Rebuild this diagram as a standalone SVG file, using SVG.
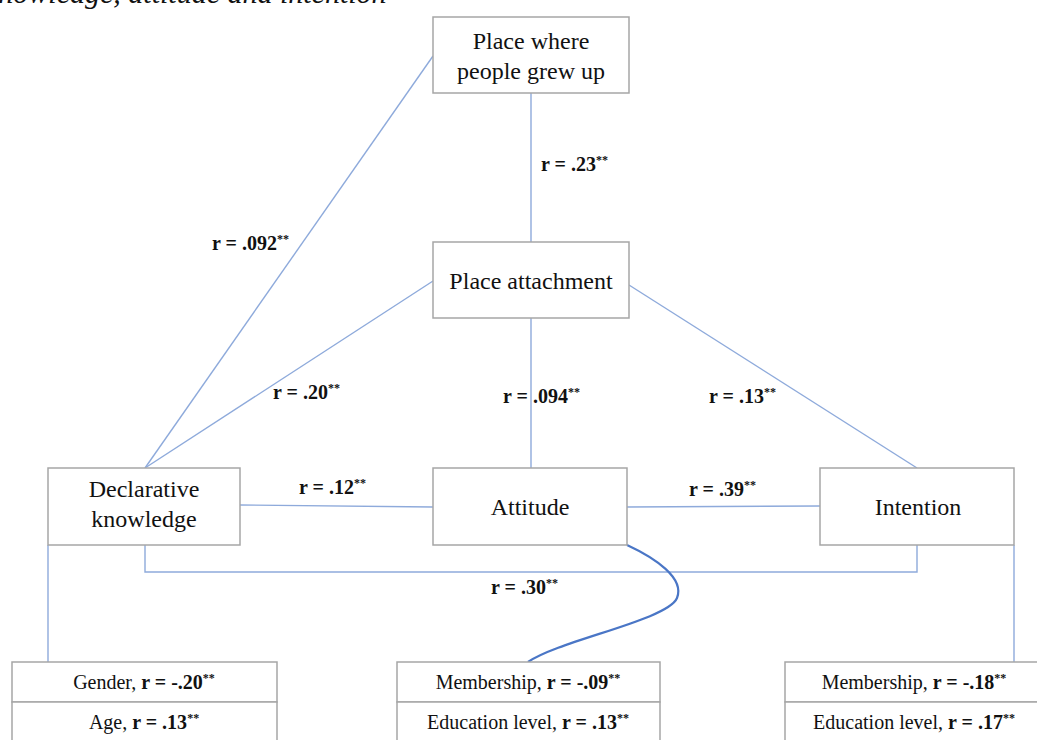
<svg xmlns="http://www.w3.org/2000/svg" width="1037" height="740" viewBox="0 0 1037 740">
<style>
.box{fill:#fff;stroke:#a6a6a6;stroke-width:1.5}
.ln{fill:none;stroke:#8eaadb;stroke-width:1.4}
.cv{fill:none;stroke:#4a76c6;stroke-width:2.2}
.t{font-family:"Liberation Serif","Times New Roman",serif;font-size:24px;fill:#111;text-anchor:middle}
.lb{font-family:"Liberation Serif","Times New Roman",serif;font-size:20px;font-weight:bold;fill:#111}
.s{font-size:12px}
.bt{font-family:"Liberation Serif","Times New Roman",serif;font-size:20px;fill:#111;text-anchor:middle}
.b{font-weight:bold}
.cap{font-family:"Liberation Serif","Times New Roman",serif;font-size:30px;font-style:italic;fill:#111}
</style>
<rect width="1037" height="740" fill="#fff"/>
<text class="cap" x="-15" y="3">knowledge, attitude and intention</text>
<g id="connectors">
<line class="ln" x1="433" y1="56" x2="145" y2="468"/>
<line class="ln" x1="433" y1="281" x2="145" y2="468"/>
<line class="ln" x1="531" y1="93" x2="531" y2="242"/>
<line class="ln" x1="531" y1="318" x2="531" y2="468"/>
<line class="ln" x1="629" y1="285" x2="917" y2="468"/>
<line class="ln" x1="240" y1="505" x2="433" y2="507"/>
<line class="ln" x1="627" y1="507" x2="820" y2="506"/>
<polyline class="ln" points="145,545 145,572 917,572 917,545"/>
<line class="ln" x1="48" y1="545" x2="48" y2="662"/>
<line class="ln" x1="1014" y1="545" x2="1014" y2="662"/>
<path class="cv" d="M627,545 C655,558 685,578 677,598 C668,620 560,640 528,662"/>
</g>
<g id="labels">
<text class="lb" x="541" y="171">r = .23<tspan class="s" dy="-7">**</tspan></text>
<text class="lb" x="212" y="250">r = .092<tspan class="s" dy="-7">**</tspan></text>
<text class="lb" x="273" y="399">r = .20<tspan class="s" dy="-7">**</tspan></text>
<text class="lb" x="503" y="403">r = .094<tspan class="s" dy="-7">**</tspan></text>
<text class="lb" x="709" y="403">r = .13<tspan class="s" dy="-7">**</tspan></text>
<text class="lb" x="299" y="494">r = .12<tspan class="s" dy="-7">**</tspan></text>
<text class="lb" x="689" y="496">r = .39<tspan class="s" dy="-7">**</tspan></text>
<text class="lb" x="491" y="594">r = .30<tspan class="s" dy="-7">**</tspan></text>
</g>
<g id="place-grew-up">
<rect class="box" x="433" y="17" width="196" height="76"/>
<text class="t" x="531" y="49">Place where</text>
<text class="t" x="531" y="79">people grew up</text>
</g>
<g id="place-attachment">
<rect class="box" x="433" y="242" width="196" height="76"/>
<text class="t" x="531" y="289">Place attachment</text>
</g>
<g id="declarative-knowledge">
<rect class="box" x="48" y="468" width="192" height="77"/>
<text class="t" x="144" y="497">Declarative</text>
<text class="t" x="144" y="527">knowledge</text>
</g>
<g id="attitude">
<rect class="box" x="433" y="468" width="194" height="77"/>
<text class="t" x="530" y="515">Attitude</text>
</g>
<g id="intention">
<rect class="box" x="820" y="468" width="194" height="77"/>
<text class="t" x="918" y="515">Intention</text>
</g>
<g id="left-covariates">
<rect class="box" x="12" y="662" width="265" height="40"/>
<rect class="box" x="12" y="702" width="265" height="50"/>
<text class="bt" x="144" y="689">Gender, <tspan class="b">r = -.20</tspan><tspan class="b s" dy="-7">**</tspan></text>
<text class="bt" x="144" y="729">Age, <tspan class="b">r = .13</tspan><tspan class="b s" dy="-7">**</tspan></text>
</g>
<g id="middle-covariates">
<rect class="box" x="397" y="662" width="263" height="40"/>
<rect class="box" x="397" y="702" width="263" height="50"/>
<text class="bt" x="528" y="689">Membership, <tspan class="b">r = -.09</tspan><tspan class="b s" dy="-7">**</tspan></text>
<text class="bt" x="528" y="729">Education level, <tspan class="b">r = .13</tspan><tspan class="b s" dy="-7">**</tspan></text>
</g>
<g id="right-covariates">
<rect class="box" x="785" y="662" width="270" height="40"/>
<rect class="box" x="785" y="702" width="270" height="50"/>
<text class="bt" x="914" y="689">Membership, <tspan class="b">r = -.18</tspan><tspan class="b s" dy="-7">**</tspan></text>
<text class="bt" x="914" y="729">Education level, <tspan class="b">r = .17</tspan><tspan class="b s" dy="-7">**</tspan></text>
</g>
</svg>
